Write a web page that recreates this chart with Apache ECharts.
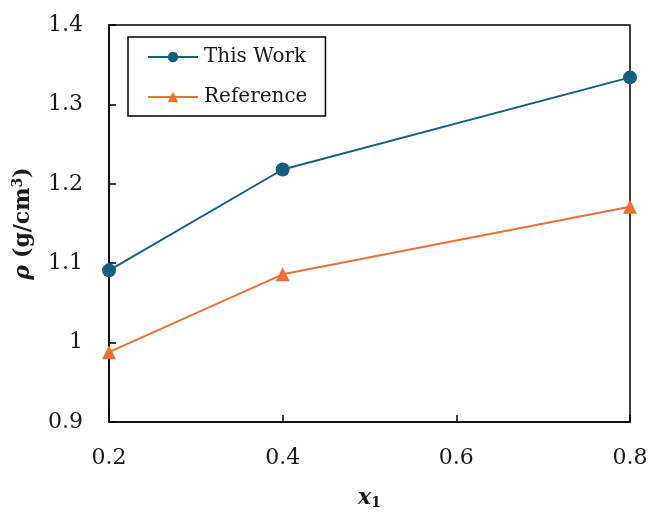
<!DOCTYPE html>
<html>
<head>
<meta charset="utf-8">
<script src="https://cdn.jsdelivr.net/npm/echarts@6/dist/echarts.min.js"></script>
<style>html,body{margin:0;padding:0;background:#fff}#c{width:651px;height:512px}</style>
</head>
<body>
<div id="c"></div>
<script>
const xValues = [0.2, 0.4, 0.8];
const thisWork = [1.091, 1.218, 1.334];
const reference = [0.988, 1.086, 1.171];
const seriesNames = ['This Work', 'Reference'];
const xTicks = [0.2, 0.4, 0.6, 0.8];
const yTicks = [0.9, 1.0, 1.1, 1.2, 1.3, 1.4];

const FONT = 'DejaVu Serif';
const chart = echarts.init(document.getElementById('c'), null, {renderer: 'canvas'});
const pair = (xs, ys) => xs.map((x, i) => [x, ys[i]]);

chart.setOption({
  animation: false,
  backgroundColor: '#fff',
  grid: {left: 109, right: 21, top: 25, bottom: 90, show: true, borderColor: '#000', borderWidth: 1.5,
    containLabel: false, outerBoundsMode: 'none'},
  legend: {
    orient: 'vertical', left: 128, top: 37,
    padding: [10, 18, 9, 19],
    borderColor: '#000', borderWidth: 1.5,
    itemWidth: 50, itemHeight: 13, itemGap: 20,
    textStyle: {fontFamily: FONT, fontSize: 20, color: '#1a1a1a', padding: [0, 0, 0, 1]},
    data: seriesNames
  },
  xAxis: {
    type: 'value', min: xTicks[0], max: xTicks[xTicks.length - 1], interval: 0.2,
    axisLine: {show: true, lineStyle: {color: '#000', width: 1.5}},
    axisTick: {show: true, inside: true, length: 7, lineStyle: {color: '#000', width: 1.5}},
    axisLabel: {fontFamily: FONT, fontSize: 22, color: '#1a1a1a', margin: 25, formatter: v => v.toFixed(1)},
    splitLine: {show: false},
    name: '{x|x}{s|1}', nameLocation: 'middle', nameGap: 64,
    nameTextStyle: {rich: {
      x: {fontFamily: FONT, fontSize: 22, fontWeight: 'bold', fontStyle: 'italic', color: '#1a1a1a'},
      s: {fontFamily: FONT, fontSize: 14, fontWeight: 'bold', color: '#1a1a1a', padding: [10, 0, 0, 0]}
    }}
  },
  yAxis: {
    type: 'value', min: yTicks[0], max: yTicks[yTicks.length - 1], interval: 0.1,
    axisLine: {show: true, lineStyle: {color: '#000', width: 1.5}},
    axisTick: {show: true, inside: true, length: 7, lineStyle: {color: '#000', width: 1.5}},
    axisLabel: {fontFamily: FONT, fontSize: 22, color: '#1a1a1a', margin: 26,
      formatter: v => (Math.abs(v - 1) < 1e-9 ? '1' : (Math.round(v * 10) / 10).toFixed(1))},
    splitLine: {show: false},
    name: '{r|ρ}{t|(g/cm}{s|3}{t|)}', nameLocation: 'middle', nameGap: 74, nameRotate: 90,
    nameTextStyle: {rich: {
      r: {fontFamily: FONT, fontSize: 22, fontWeight: 'bold', fontStyle: 'italic', color: '#1a1a1a', padding: [0, 7, 0, 0]},
      t: {fontFamily: FONT, fontSize: 22, fontWeight: 'bold', color: '#1a1a1a'},
      s: {fontFamily: FONT, fontSize: 14, fontWeight: 'bold', color: '#1a1a1a', padding: [0, 0, 10, 0]}
    }}
  },
  series: [
    {name: seriesNames[0], type: 'line', data: pair(xValues, thisWork), symbol: 'circle', symbolSize: 14,
      lineStyle: {color: '#156082', width: 2}, itemStyle: {color: '#156082'}, z: 3},
    {name: seriesNames[1], type: 'line', data: pair(xValues, reference), symbol: 'triangle', symbolSize: 14,
      lineStyle: {color: '#E97132', width: 2}, itemStyle: {color: '#E97132'}, z: 2}
  ]
});
</script>
</body>
</html>
